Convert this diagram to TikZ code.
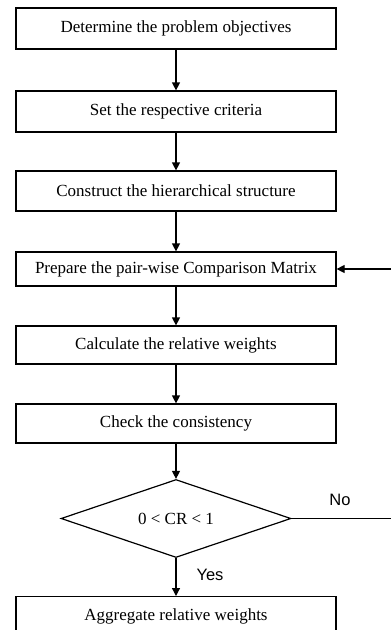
\documentclass[tikz,border=0pt]{standalone}
\usepackage{fontspec}
\setmainfont{Liberation Serif}
\newfontfamily\labelfont{Liberation Sans}
\usetikzlibrary{arrows.meta,shapes.geometric}
\begin{document}
\begin{tikzpicture}[x=1pt,y=-1pt,
  stepbox/.style={draw,line width=1.2pt,minimum width=320pt,inner sep=0pt,font=\fontsize{17}{20}\selectfont},
  decision/.style={draw,line width=1.2pt,diamond,aspect=2.95,minimum width=230pt,minimum height=78pt,inner sep=0pt,font=\fontsize{17}{20}\selectfont},
  flow/.style={line width=1.2pt,-{Triangle[length=8pt,width=8pt]}},
  branch/.style={font=\labelfont\fontsize{16.5}{19}\selectfont}]
\useasboundingbox (0,0) rectangle (391,630);
\node[stepbox,minimum height=41pt] (b1) at (176,28.5) {Determine the problem objectives};
\node[stepbox,minimum height=41pt] (b2) at (176,111.5) {Set the respective criteria};
\node[stepbox,minimum height=40pt] (b3) at (176,191) {Construct the hierarchical structure};
\node[stepbox,minimum height=34pt] (b4) at (176,269) {Prepare the pair-wise Comparison Matrix};
\node[stepbox,minimum height=38pt] (b5) at (176,345) {Calculate the relative weights};
\node[stepbox,minimum height=39pt] (b6) at (176,423.5) {Check the consistency};
\node[decision] (d) at (176,518.5) {0 < CR < 1};
\node[stepbox,minimum height=40pt,anchor=north] (b7) at (176,596) {Aggregate relative weights};
\draw[flow] (b1) -- (b2);
\draw[flow] (b2) -- (b3);
\draw[flow] (b3) -- (b4);
\draw[flow] (b4) -- (b5);
\draw[flow] (b5) -- (b6);
\draw[flow] (b6) -- (d);
\draw[flow] (d) -- (b7);
\node[branch] (yes) at (210,575) {Yes};
\coordinate (loop) at (396,518.5);
\draw[flow] (d.east) -- (loop) |- (b4.east);
\node[branch] (no) at (340,500) {No};
\end{tikzpicture}
\end{document}
